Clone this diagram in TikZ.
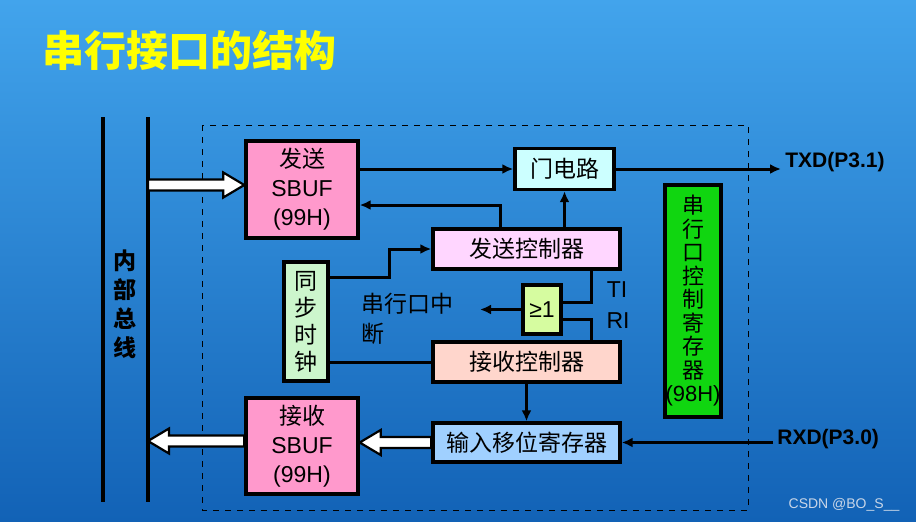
\documentclass[tikz,border=0pt]{standalone}
\usepackage{fontspec}
\setmainfont{Liberation Sans}
\newfontfamily\cjk{Noto Sans CJK SC}
\usetikzlibrary{arrows.meta,calc}
\definecolor{bgtop}{RGB}{66,164,236}
\definecolor{bgbot}{RGB}{18,98,182}
\definecolor{titleyellow}{RGB}{255,255,0}
\definecolor{bufpink}{RGB}{255,153,204}
\definecolor{gatecyan}{RGB}{204,255,255}
\definecolor{txctlpink}{RGB}{255,214,255}
\definecolor{clkgreen}{RGB}{204,246,204}
\definecolor{orgreen}{RGB}{214,252,160}
\definecolor{rxctlpeach}{RGB}{255,214,204}
\definecolor{scongreen}{RGB}{16,214,16}
\definecolor{shiftblue}{RGB}{160,208,255}
\definecolor{wmgray}{RGB}{200,214,232}
\newcommand{\boxfont}{\fontsize{11.5}{14.5}\selectfont}
\tikzset{
    unitbox/.style={draw=black,line width=1.7pt,inner sep=0pt,align=center,font=\boxfont},
    cjkbox/.style={unitbox,font=\cjk\boxfont},
    link/.style={line width=1.5pt},
    busline/.style={line width=1.6pt},
    fatarr/.style={draw=black,fill=white,line width=1.1pt,line join=miter},
    portlabel/.style={font=\bfseries\fontsize{10.5}{12}\selectfont,inner sep=2pt},
    framebox/.style={dashed,line width=0.5pt}
}
% wide hollow arrow, tail #1, tip #2 (horizontal)
\newcommand{\fatarrow}[2]{%
    \draw[fatarr] let \p1=(#1), \p2=(#2), \p3=($(\p2)!10.5pt!(\x1,\y2)$) in
        (\x1,\y2+2.75pt) -- (\x3,\y2+2.75pt) -- (\x3,\y2+6.25pt) -- (\p2)
        -- (\x3,\y2-6.25pt) -- (\x3,\y2-2.75pt) -- (\x1,\y2-2.75pt) -- cycle;}

\begin{document}
\begin{tikzpicture}[x=0.5pt,y=-0.5pt,>={Latex[length=5.5pt,width=5pt]}]
    % Background
    \shade[top color=bgtop,bottom color=bgbot] (0,0) rectangle (916,521);
    \useasboundingbox (0,0) rectangle (916,521);
    \node[anchor=west,inner sep=0pt,text=titleyellow,font=\cjk\bfseries\fontsize{21}{25}\selectfont] (title) at (42,50) {串行接口的结构};
    \draw[framebox] (202,125) rectangle (748,510);
    % Internal bus
    \draw[busline] (103,117) -- (103,502);
    \draw[busline] (148,117) -- (148,502);
    \node[font=\cjk\bfseries\fontsize{11.5}{14.5}\selectfont,align=center] (busname) at (125,304) {内\\部\\总\\线};
    \coordinate (busin) at (148,185);
    \coordinate (busout) at (148,441);
    % Blocks
    \node[unitbox,fill=bufpink,minimum width=56pt,minimum height=48.5pt] (sendbuf) at (302,189.5) {{\cjk 发送}\\SBUF\\(99H)};
    \node[cjkbox,fill=gatecyan,minimum width=49.5pt,minimum height=20.5pt] (gate) at (564.5,169) {门电路};
    \node[cjkbox,fill=txctlpink,minimum width=93.5pt,minimum height=20pt] (sendctl) at (526.5,249) {发送控制器};
    \node[cjkbox,fill=clkgreen,minimum width=22pt,minimum height=59.5pt,font=\cjk\fontsize{11.5}{13.5}\selectfont] (clock) at (306,321.5) {同\\步\\时\\钟};
    \node[unitbox,fill=orgreen,minimum width=19pt,minimum height=24.5pt] (orgate) at (542,309.5) {≥1};
    \node[cjkbox,fill=rxctlpeach,minimum width=93.5pt,minimum height=20pt] (recvctl) at (526.5,362) {接收控制器};
    \node[unitbox,fill=scongreen,minimum width=28pt,minimum height=116pt,font=\fontsize{11}{11.75}\selectfont] (scon) at (693,301) {{\cjk 串}\\{\cjk 行}\\{\cjk 口}\\{\cjk 控}\\{\cjk 制}\\{\cjk 寄}\\{\cjk 存}\\{\cjk 器}\\(98H)};
    \node[cjkbox,fill=shiftblue,minimum width=93.5pt,minimum height=19.5pt] (shiftreg) at (526.5,442.5) {输入移位寄存器};
    \node[unitbox,fill=bufpink,minimum width=56pt,minimum height=48pt] (recvbuf) at (302,446) {{\cjk 接收}\\SBUF\\(99H)};
    % Labels
    \node[portlabel,anchor=west] (txd) at (781,162) {TXD(P3.1)};
    \node[portlabel,anchor=west] (rxd) at (773,439) {RXD(P3.0)};
    \node[font=\boxfont] (ti) at (617,290) {TI};
    \node[font=\boxfont] (ri) at (618,321) {RI};
    \node[anchor=north west,align=left,inner sep=0pt,font=\cjk\fontsize{11.5}{15}\selectfont] (inttext) at (361,293) {串行口中\\断};
    \coordinate (intr) at (480,309.5);
    \node[text=wmgray,font=\fontsize{7}{8}\selectfont] (wmark) at (844,505) {CSDN @BO\_S\_\_};
    % Transmit path
    \fatarrow{busin}{sendbuf.west |- busin}
    \draw[link,->] (sendbuf.east |- gate.west) -- (gate.west);
    \draw[link,->] (gate.east) -- (txd.west |- gate.east);
    \draw[link,->] (sendctl.north -| gate.south) -- (gate.south);
    \draw[link,->] ([xshift=-13.25pt]sendctl.north) |- ([yshift=-7.75pt]sendbuf.east);
    % Clock and interrupt
    \draw[link,->] ([yshift=22.25pt]clock.east) -- ++(60,0) |- (sendctl.west);
    \draw[link] (clock.east |- recvctl.west) -- (recvctl.west);
    \draw[link] ([xshift=32.25pt]sendctl.south) |- ([yshift=3.75pt]orgate.east);
    \draw[link] ([xshift=32.25pt]recvctl.north) |- ([yshift=-4.75pt]orgate.east);
    \draw[link,->] (orgate.west) -- (intr);
    % Receive path
    \draw[link,->] (recvctl.south) -- (shiftreg.north);
    \draw[link,->] (rxd.west |- shiftreg.east) -- (shiftreg.east);
    \fatarrow{shiftreg.west}{recvbuf.east |- shiftreg.west}
    \fatarrow{recvbuf.west |- busout}{busout}
\end{tikzpicture}
\end{document}
